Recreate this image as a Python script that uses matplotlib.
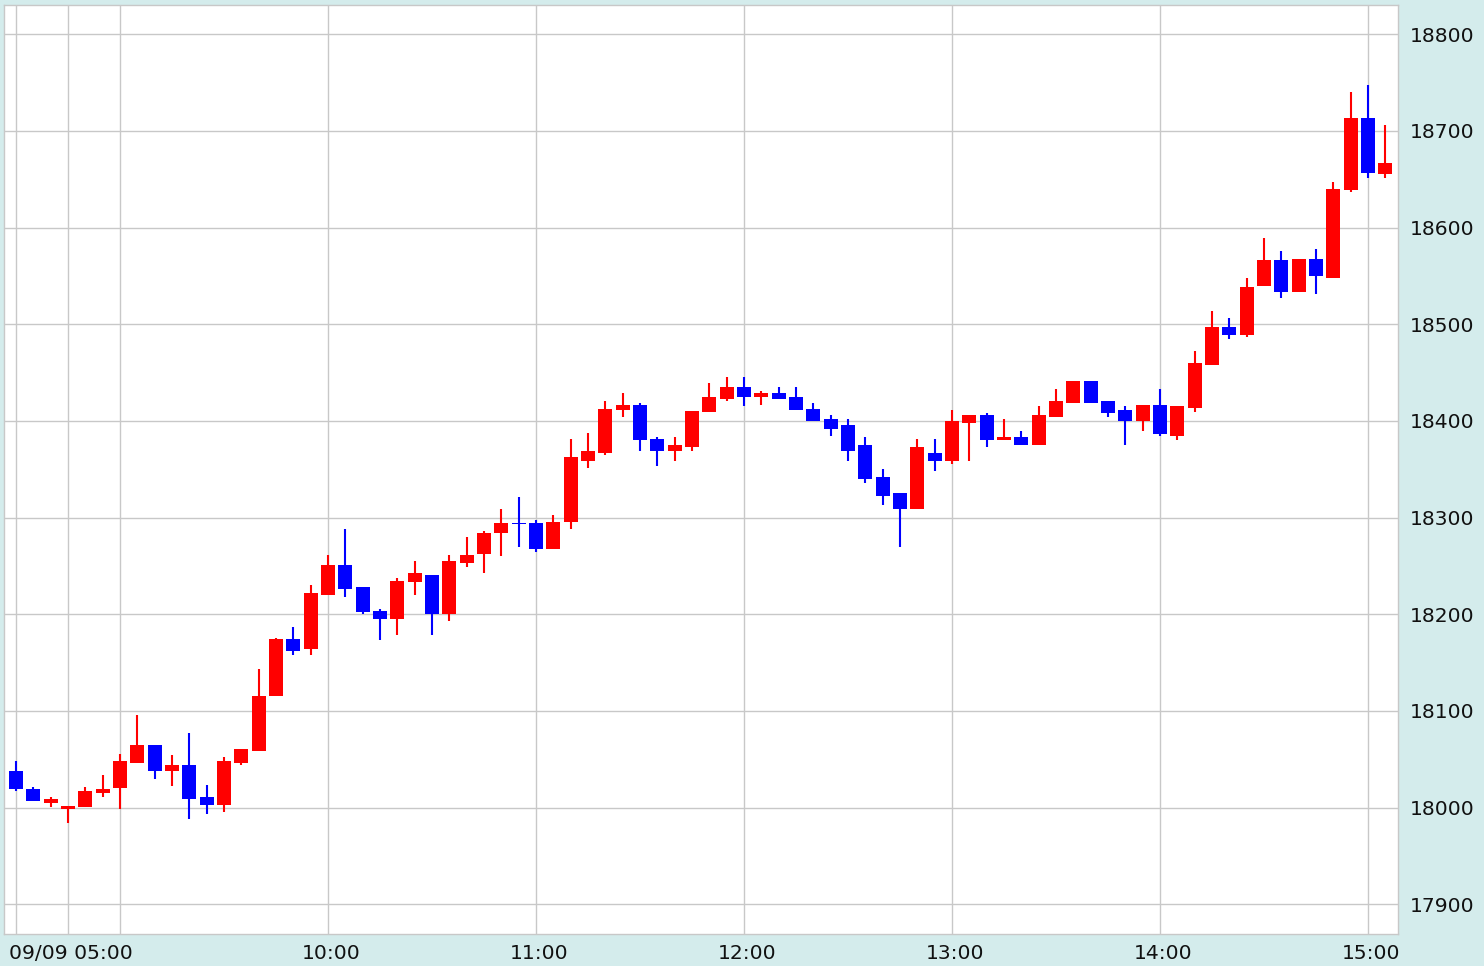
#!/usr/bin/env python
# coding: utf-8

import numpy as np
import matplotlib
matplotlib.use('Agg')
import matplotlib.pyplot as plt
from matplotlib.transforms import ScaledTranslation

# 5-minute candles
opens = [18038, 18019, 18005, 17999, 18001, 18015, 18020, 18046, 18065, 18038,
         18044, 18011, 18003, 18046, 18059, 18115, 18174, 18164, 18220, 18251,
         18228, 18203, 18195, 18233, 18241, 18200, 18253, 18262, 18284, 18294,
         18294, 18268, 18295, 18359, 18367, 18411, 18416, 18381, 18369, 18373,
         18409, 18423, 18435, 18425, 18429, 18425, 18412, 18402, 18396, 18375,
         18342, 18325, 18309, 18367, 18359, 18398, 18406, 18380, 18383, 18375,
         18404, 18419, 18441, 18421, 18411, 18400, 18416, 18384, 18413, 18458,
         18497, 18489, 18540, 18566, 18533, 18568, 18548, 18639, 18713, 18655]
highs = [18048, 18021, 18011, 18002, 18021, 18034, 18056, 18096, 18065, 18054,
         18077, 18023, 18052, 18061, 18143, 18176, 18187, 18230, 18261, 18288,
         18228, 18205, 18238, 18255, 18241, 18261, 18280, 18286, 18309, 18321,
         18298, 18303, 18381, 18388, 18421, 18429, 18419, 18383, 18383, 18410,
         18439, 18445, 18445, 18431, 18435, 18435, 18419, 18406, 18402, 18383,
         18350, 18325, 18381, 18381, 18411, 18406, 18408, 18402, 18390, 18415,
         18433, 18441, 18441, 18421, 18415, 18416, 18433, 18415, 18472, 18514,
         18506, 18548, 18589, 18576, 18568, 18578, 18647, 18740, 18748, 18706]
lows = [18017, 18007, 18001, 17984, 18001, 18011, 17999, 18046, 18030, 18022,
        17988, 17993, 17995, 18044, 18059, 18115, 18158, 18158, 18220, 18218,
        18200, 18173, 18179, 18220, 18179, 18193, 18249, 18243, 18260, 18270,
        18264, 18268, 18288, 18351, 18365, 18404, 18369, 18353, 18359, 18369,
        18409, 18421, 18415, 18417, 18423, 18411, 18400, 18384, 18359, 18336,
        18313, 18270, 18309, 18348, 18355, 18359, 18373, 18380, 18375, 18375,
        18404, 18419, 18419, 18404, 18375, 18390, 18384, 18380, 18409, 18458,
        18485, 18487, 18540, 18527, 18533, 18531, 18548, 18637, 18651, 18651]
closes = [18019, 18007, 18009, 18002, 18017, 18019, 18048, 18065, 18038, 18044,
          18009, 18003, 18048, 18061, 18116, 18174, 18162, 18222, 18251, 18226,
          18202, 18195, 18234, 18243, 18200, 18255, 18261, 18284, 18294, 18293,
          18268, 18296, 18363, 18369, 18412, 18416, 18380, 18369, 18375, 18410,
          18425, 18435, 18425, 18429, 18423, 18411, 18400, 18392, 18369, 18340,
          18322, 18309, 18373, 18359, 18400, 18406, 18380, 18383, 18375, 18406,
          18421, 18441, 18419, 18408, 18400, 18416, 18386, 18415, 18460, 18497,
          18489, 18539, 18566, 18533, 18568, 18550, 18640, 18713, 18657, 18667]

grid_idx = [0, 3, 6, 18, 30, 42, 54, 66, 78]
grid_labels = ['', '09/09 05:00', '', '10:00', '11:00', '12:00', '13:00', '14:00', '15:00']
price_ticks = list(range(17900, 18801, 100))


def run():
    o = np.array(opens)
    h = np.array(highs)
    l = np.array(lows)
    c = np.array(closes)
    x = np.arange(len(o))
    colors = np.where(c >= o, '#ff0000', '#0000ff')

    W, H = 1484, 966
    fig = plt.figure(figsize=(W / 100, H / 100), dpi=100, facecolor='#d4ecec')
    ax = fig.add_axes([4 / W, (H - 934) / H, 1394 / W, 929.5 / H])
    ax.set_facecolor('white')

    ax.vlines(x, l, h, colors=colors, linewidth=1.5, zorder=2)
    body = np.maximum(np.abs(c - o), 1.5)
    ax.bar(x, body, bottom=np.minimum(o, c), width=0.8, color=colors,
           linewidth=0, zorder=3)

    ax.set_xlim(-0.69, 79.73)
    ax.set_ylim(17869.3, 18830.8)

    ax.set_xticks(grid_idx)
    ax.set_xticklabels(grid_labels)
    ax.set_yticks(price_ticks)
    ax.yaxis.tick_right()
    ax.grid(True, color='#c8c8c8', linewidth=1.0)
    ax.set_axisbelow(True)
    ax.tick_params(axis='both', length=0, labelsize=14.6, colors='#111111')
    ax.tick_params(axis='y', pad=8.5)
    ax.tick_params(axis='x', pad=7.5)
    for lab in ax.get_xticklabels():
        lab.set_transform(lab.get_transform() + ScaledTranslation(3 / 100, 0, fig.dpi_scale_trans))
    for s in ax.spines.values():
        s.set_color('#c8c8c8')
        s.set_linewidth(1.0)

    fig.savefig('out.png', dpi=100, facecolor=fig.get_facecolor())
    plt.close(fig)


if __name__ == '__main__':
    run()
